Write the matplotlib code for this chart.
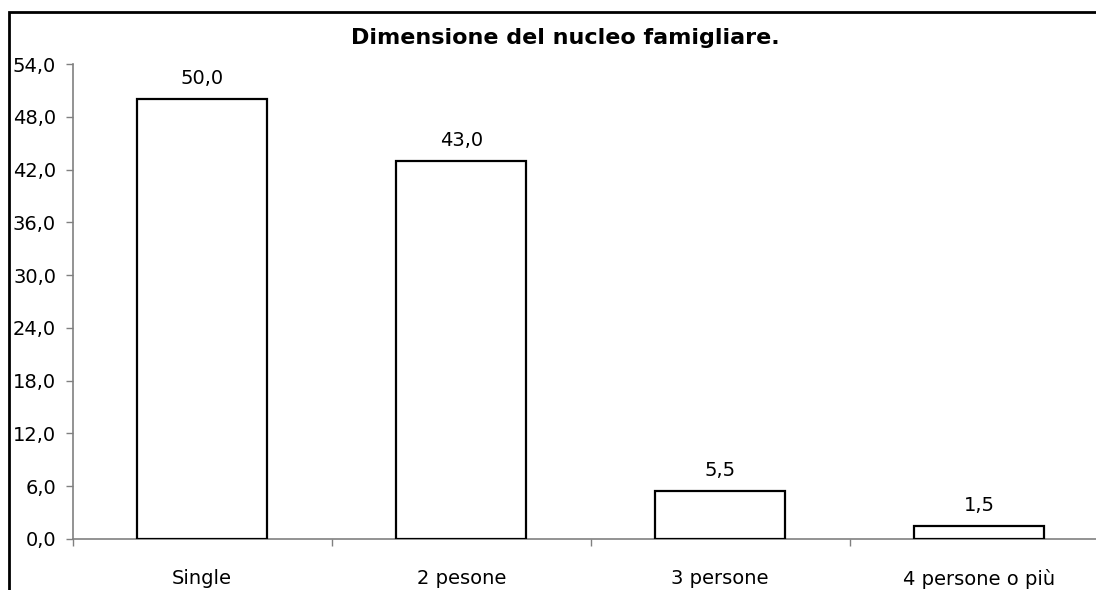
import matplotlib
matplotlib.use("Agg")
import matplotlib.pyplot as plt
from matplotlib.patches import Rectangle
from matplotlib.ticker import FixedLocator

categories = ["Single", "2 pesone", "3 persone", "4 persone o più"]
values = [50.0, 43.0, 5.5, 1.5]
yticks = [0, 6, 12, 18, 24, 30, 36, 42, 48, 54]
title = "Dimensione del nucleo famigliare."

def fmt(v):
    return f"{v:.1f}".replace(".", ",")

W, H = 1096, 590
fig = plt.figure(figsize=(W / 100, H / 100), dpi=100)
plt.rcParams['font.family'] = ['DejaVu Sans']

left, right, top, bottom = 72.7, 1108.7, 64, 539
ax = fig.add_axes([left / W, (H - bottom) / H, (right - left) / W, (bottom - top) / H])

x = list(range(len(categories)))
ax.bar(x, values, width=0.5, color="white", edgecolor="black", linewidth=1.6, zorder=3)
ax.set_xlim(-0.5, len(categories) - 0.5)
ax.set_ylim(0, 54)

FS = 14
for xi, v in zip(x, values):
    ax.annotate(fmt(v), (xi, v), xytext=(0, 8), textcoords="offset points",
                ha="center", va="bottom", fontsize=FS)

ax.set_yticks(yticks)
ax.set_yticklabels([fmt(t) for t in yticks], fontsize=FS)
ax.set_xticks(x)
ax.set_xticklabels(categories, fontsize=FS)
ax.xaxis.set_minor_locator(FixedLocator([i - 0.5 for i in range(len(categories) + 1)]))
ax.tick_params(axis="x", which="major", length=0, pad=21.5)
ax.tick_params(axis="x", which="minor", length=5, direction="out", color="#808080", width=1)
ax.tick_params(axis="y", length=5, direction="out", color="#808080", width=1, pad=7)

for s in ["top", "right"]:
    ax.spines[s].set_visible(False)
for s in ["left", "bottom"]:
    ax.spines[s].set_color("#808080")
    ax.spines[s].set_linewidth(1.2)

fig.text(565 / W, 1 - 38 / H, title, ha="center", va="center", fontsize=16, fontweight="bold")

fig.patches.append(Rectangle((9 / W, -0.1), 1.2, 1 - 12 / H + 0.1, transform=fig.transFigure,
                             fill=False, edgecolor="black", linewidth=2, clip_on=False))

fig.savefig("out.png", dpi=100, facecolor="white")
